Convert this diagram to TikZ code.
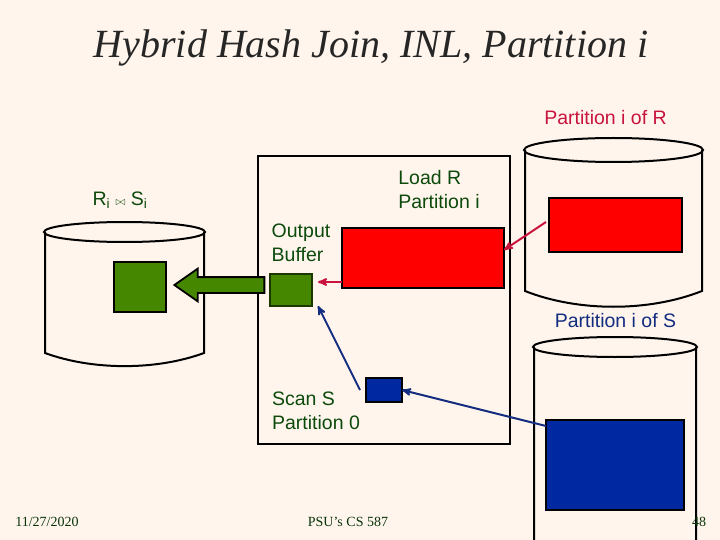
\documentclass[tikz,border=0pt]{standalone}
\usepackage{amsmath,amssymb}
\usepackage{fontspec}
\setmainfont{Liberation Serif}
\setsansfont{Liberation Sans}
\usetikzlibrary{arrows}
\usetikzlibrary{shapes.arrows}
\usetikzlibrary{positioning}
\definecolor{paper}{RGB}{255,245,236}
\definecolor{leaf}{RGB}{70,135,0}
\definecolor{ink}{RGB}{12,74,12}
\definecolor{navy}{RGB}{18,44,128}
\definecolor{deepblue}{RGB}{0,40,160}
\definecolor{crimson}{RGB}{200,20,60}
\newcommand{\drum}[5]{%
  \draw[line width=2pt] (#1,#3) -- (#1,#5)
    .. controls ({#1+0.3*(#2-#1)},{#5+1.75*#4}) and ({#2-0.3*(#2-#1)},{#5+1.75*#4}) .. (#2,#5) -- (#2,#3);
  \draw[line width=2pt] ({(#1+#2)/2},#3) ellipse ({(#2-#1)/2+1} and #4);
}
\begin{document}
\begin{tikzpicture}[x=1pt,
                    y=-1pt,
                    >=stealth',
                    thick,
                    box/.style={rectangle,draw=black,line width=1.8pt,anchor=north west,inner sep=0pt,outer sep=0pt},
                    label/.style={font=\fontsize{19.5}{24}\selectfont\sffamily,align=left,text=ink,inner sep=0pt},
                    foot/.style={font=\fontsize{14}{16}\selectfont,text=ink!70!black,inner sep=0pt},
                    link/.style={->,line width=2pt}
                    ]
  \fill[paper] (0,0) rectangle (720,540);
  \useasboundingbox (0,0) rectangle (720,540);
  \clip (0,0) rectangle (720,540);
  \node (title) [inner sep=0pt,font=\fontsize{40}{44}\selectfont\itshape,text=black!85] at (371,48) {Hybrid Hash Join, INL, Partition i};

  % disks
  \drum{45}{204}{232}{10}{353}
  \drum{525}{702}{150}{12}{291}
  \drum{534}{696}{347}{10}{600}

  % memory
  \node[box,minimum width=252pt,minimum height=288pt] (mem) at (258,156) {};
  \node[box,fill=red,minimum width=162pt,minimum height=60pt] (memred) at (342,228) {};
  \node[box,fill=leaf,draw=black!60!leaf,minimum width=42pt,minimum height=32pt] (outbuf) at (270,274) {};
  \node[box,fill=deepblue,minimum width=36pt,minimum height=24pt] (scanbuf) at (366,378) {};

  % partitions on disk
  \node[box,fill=leaf,minimum width=52pt,minimum height=50pt] (diskout) at (114,262) {};
  \node[box,fill=red,minimum width=133pt,minimum height=54pt] (diskr) at (549,198) {};
  \node[box,fill=deepblue,minimum width=138pt,minimum height=90pt] (disks) at (546,420) {};

  % labels
  \node[label,text=crimson] (partr) at (605.5,118) {Partition i of R};
  \node[label,text=navy] (parts) at (615.5,321) {Partition i of S};
  \node[label] (join) at (120,200) {R\textsubscript{i} {\fontsize{13}{14}\selectfont$\bowtie$} S\textsubscript{i}};
  \node[label] (load) at (439,190) {Load R\\Partition i};
  \node[label] (outlabel) at (301,243) {Output\\Buffer};
  \node[label] (scan) at (316,411) {Scan S\\Partition 0};
  \node[foot] (date) at (47,522) {11/27/2020};
  \node[foot] (course) at (348,522) {PSU’s CS 587};
  \node[foot] (page) at (699,522) {48};

  % connectors
  \node[shape=single arrow,draw=black,line width=1.8pt,fill=leaf,inner sep=0pt,inner ysep=7pt,
        minimum height=90pt,single arrow head extend=8.5pt,single arrow tip angle=70,
        shape border rotate=180] (outarrow) at (225,285) {};
  \draw[link,color=crimson] ([yshift=6pt]memred.south west) -- ([xshift=6pt,yshift=-8pt]outbuf.north east);
  \draw[link,color=crimson] ([xshift=-3pt,yshift=3pt]diskr.west) -- ([yshift=8pt]memred.east);
  \draw[link,color=navy] ([xshift=-6pt]scanbuf.west) -- ([xshift=6pt]outbuf.south east);
  \draw[link,color=navy] ([yshift=-6pt]disks.north west) -- (scanbuf.east);
\end{tikzpicture}
\end{document}
